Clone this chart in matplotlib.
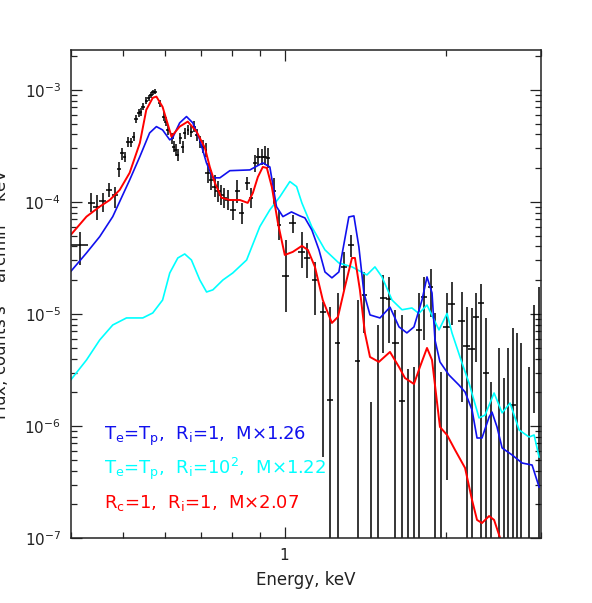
import numpy as np
import matplotlib
matplotlib.use('Agg')
import matplotlib.pyplot as plt
from matplotlib.ticker import LogLocator, NullFormatter, FixedLocator, FixedFormatter

nan = np.nan

# measured spectrum: bin centre, half width (keV), flux and error bar ends
e_mid = [0.416, 0.437, 0.447, 0.459, 0.471, 0.483,
         0.492, 0.499, 0.504, 0.511, 0.519, 0.524, 0.529, 0.536, 0.540, 0.545,
         0.553, 0.559, 0.564, 0.569, 0.575, 0.586, 0.596, 0.601, 0.606, 0.618,
         0.622, 0.628, 0.633, 0.640, 0.646, 0.652, 0.661, 0.671, 0.679, 0.686,
         0.696, 0.704, 0.714,
         0.721, 0.731, 0.742, 0.752, 0.763, 0.772, 0.785, 0.802, 0.816, 0.832,
         0.853, 0.866, 0.881, 0.893, 0.906, 0.919, 0.932, 0.955, 0.976,
         1.006, 1.035, 1.076, 1.102, 1.139, 1.177, 1.217, 1.255, 1.291, 1.329,
         1.367, 1.406,
         1.450, 1.490, 1.526, 1.566, 1.608, 1.652, 1.699, 1.741, 1.781, 1.820,
         1.870, 1.908, 1.957,
         2.003, 2.047, 2.136, 2.183, 2.230, 2.271, 2.321, 2.371, 2.419, 2.510,
         2.561, 2.609, 2.659, 2.704, 2.752, 2.855, 2.917, 2.979]
e_half = [0.015] + [0.0065] * 5 + [0.004] * 33 + [0.009] * 19 + [0.015] * 12 + [0.022] * 13 + [0.032] * 18

f_mid = [4.13e-5, 9.74e-5, 9.08e-5, 1.01e-4, 1.28e-4, 1.15e-4,
         1.97e-4, 2.74e-4, 2.54e-4, 3.45e-4, 3.45e-4, 3.83e-4, 5.47e-4, 6.19e-4, 6.32e-4, 7.09e-4,
         8.03e-4, 8.43e-4, 9.02e-4, 9.54e-4, 9.66e-4, 7.61e-4, 5.78e-4, 5.21e-4, 4.39e-4, 3.70e-4,
         3.12e-4, 2.91e-4, 2.63e-4, 3.70e-4, 3.12e-4, 4.11e-4, 4.39e-4, 4.24e-4, 4.70e-4, 3.96e-4,
         3.45e-4, 3.12e-4, 2.91e-4,
         1.80e-4, 1.57e-4, 1.37e-4, 1.24e-4, 1.15e-4, 1.08e-4, 1.04e-4, 8.49e-5, 1.24e-4, 7.93e-5,
         1.47e-4, 1.08e-4, 2.21e-4, 2.54e-4, 2.54e-4, 2.54e-4, 2.46e-4, 1.24e-4, 6.23e-5,
         2.20e-5, 6.45e-5, 3.60e-5, 3.14e-5, 2.01e-5, 1.05e-5, 1.69e-6, 5.47e-6, 2.64e-5, 4.13e-5,
         3.84e-6, 1.48e-5,
         nan, nan, 1.38e-5, 1.35e-5, 5.54e-6, 1.68e-6, nan, nan, 7.20e-6, 1.43e-5,
         1.75e-5, nan, nan,
         7.70e-6, 1.22e-5, 8.66e-6, 5.18e-6, 4.84e-6, 9.46e-6, 1.25e-5, 2.95e-6, nan, nan,
         nan, nan, 1.54e-6, nan, nan, nan, nan, nan]
f_hi = [5.43e-5, 1.20e-4, 1.15e-4, 1.20e-4, 1.48e-4, 1.36e-4,
        2.28e-4, 3.03e-4, 2.80e-4, 3.81e-4, 3.73e-4, 4.22e-4, 5.98e-4, 6.77e-4, 6.91e-4, 7.65e-4,
        8.66e-4, 9.02e-4, 9.60e-4, 1.00e-3, 1.02e-3, 8.14e-4, 6.36e-4, 5.74e-4, 4.87e-4, 4.13e-4,
        3.50e-4, 3.30e-4, 2.97e-4, 4.13e-4, 3.50e-4, 4.58e-4, 4.87e-4, 4.77e-4, 5.28e-4, 4.48e-4,
        3.88e-4, 3.58e-4, 3.36e-4,
        2.23e-4, 1.93e-4, 1.74e-4, 1.54e-4, 1.42e-4, 1.33e-4, 1.28e-4, 1.04e-4, 1.57e-4, 9.80e-5,
        1.67e-4, 1.33e-4, 2.63e-4, 3.03e-4, 2.97e-4, 3.16e-4, 3.03e-4, 1.64e-4, 8.49e-5,
        4.58e-5, 7.65e-5, 5.43e-5, 4.30e-5, 2.93e-5, 1.29e-5, 1.16e-5, 1.54e-5, 3.60e-5, 5.07e-5,
        1.33e-5, 2.39e-5,
        1.65e-6, 7.97e-6, 2.23e-5, 2.15e-5, 1.09e-5, 9.80e-6, 3.23e-6, 3.38e-6, 1.53e-5, 2.15e-5,
        2.52e-5, 1.01e-5, 3.05e-6,
        1.54e-5, 1.93e-5, 1.57e-5, 1.16e-5, 1.13e-5, 1.54e-5, 1.84e-5, 9.21e-6, 2.49e-6, 4.94e-6,
        2.67e-6, 4.94e-6, 7.45e-6, 6.73e-6, 5.47e-6, 3.38e-6, 1.20e-5, 1.75e-5]
f_lo = [2.74e-5, 8.14e-5, 6.91e-5, 8.14e-5, 1.108e-4, 8.84e-5,
        1.67e-4, 2.37e-4, 2.28e-4, 3.10e-4, 3.10e-4, 3.50e-4, 5.07e-4, 5.74e-4, 5.86e-4, 6.63e-4,
        7.50e-4, 7.97e-4, 8.49e-4, 9.02e-4, 9.21e-4, 7.05e-4, 5.28e-4, 4.77e-4, 3.96e-4, 3.30e-4,
        2.80e-4, 2.57e-4, 2.32e-4, 3.30e-4, 2.74e-4, 3.65e-4, 3.96e-4, 3.81e-4, 4.22e-4, 3.50e-4,
        3.03e-4, 2.74e-4, 2.52e-4,
        1.48e-4, 1.28e-4, 1.108e-4, 1.0e-4, 9.40e-5, 8.84e-5, 8.49e-5, 6.91e-5, 9.80e-5, 6.36e-5,
        1.28e-4, 8.84e-5, 1.85e-4, 2.14e-4, 2.14e-4, 2.14e-4, 2.01e-4, 9.40e-5, 4.58e-5,
        1.05e-5, 5.28e-5, 2.57e-5, 2.10e-5, 9.80e-6, 5.28e-7, 1e-9, 1e-9, 1.64e-5, 3.25e-5,
        1e-9, 6.77e-6,
        1e-9, 1e-9, 4.49e-6, 5.51e-6, 1e-9, 1e-9, 1e-9, 1e-9, 1e-9, 5.86e-6,
        9.46e-6, 1e-9, 1e-9,
        3.30e-7, 7.97e-6, 1.65e-6, 1e-9, 1e-9, 3.75e-6, 1e-9, 1e-9, 1e-9, 1e-9,
        1e-9, 1e-9, 1e-9, 1e-9, 1e-9, 1e-9, 1.31e-6, 1e-9]

# model: Te=Tp, Ri=1
e_blue = [0.400, 0.428, 0.453, 0.479, 0.515, 0.538, 0.561, 0.5775, 0.593, 0.6115,
          0.619, 0.638, 0.657, 0.675, 0.6955, 0.7156, 0.7355, 0.758, 0.791, 0.862,
          0.911, 0.939, 0.966, 0.993, 1.030, 1.068, 1.091, 1.124, 1.159, 1.189,
          1.225, 1.262, 1.317, 1.346, 1.375, 1.405, 1.442, 1.505, 1.571, 1.633,
          1.689, 1.741, 1.802, 1.841, 1.881, 1.905, 1.946, 2.023, 2.111, 2.167,
          2.233, 2.281, 2.330, 2.402, 2.432, 2.485, 2.540, 2.651, 2.767, 2.888, 2.976]
f_blue = [2.39e-5, 3.50e-5, 4.90e-5, 7.39e-5, 1.57e-4, 2.54e-4, 4.13e-4, 4.70e-4, 4.39e-4, 3.58e-4,
          3.73e-4, 5.07e-4, 5.78e-4, 5.07e-4, 3.58e-4, 2.23e-4, 1.64e-4, 1.64e-4, 1.90e-4, 1.93e-4,
          2.23e-4, 2.05e-4, 9.08e-5, 7.39e-5, 8.14e-5, 7.50e-5, 7.20e-5, 5.62e-5, 3.73e-5, 2.37e-5,
          2.10e-5, 2.37e-5, 7.34e-5, 7.50e-5, 3.96e-5, 1.54e-5, 9.80e-6, 9.21e-6, 1.15e-5, 7.66e-6,
          6.77e-6, 7.66e-6, 1.33e-5, 2.14e-5, 1.54e-5, 5.86e-6, 3.73e-6, 2.85e-6, 2.32e-6, 2.01e-6,
          1.39e-6, 7.81e-7, 7.81e-7, 1.20e-6, 1.33e-6, 9.80e-7, 6.36e-7, 5.51e-7, 4.67e-7, 4.48e-7, 2.85e-7]

# model: Te=Tp, Ri=10^2
e_cyan = [0.400, 0.428, 0.453, 0.479, 0.508, 0.5447, 0.5685, 0.593, 0.6115, 0.633,
          0.652, 0.671, 0.6955, 0.716, 0.7355, 0.768, 0.801, 0.850, 0.8995, 0.939,
          0.980, 1.023, 1.053, 1.077, 1.124, 1.189, 1.262, 1.335, 1.423, 1.473,
          1.518, 1.585, 1.654, 1.726, 1.778, 1.841, 1.938, 2.006, 2.049, 2.139,
          2.204, 2.301, 2.361, 2.454, 2.540, 2.628, 2.732, 2.851, 2.913, 2.976]
f_cyan = [2.57e-6, 3.88e-6, 5.86e-6, 7.97e-6, 9.21e-6, 9.21e-6, 1.02e-5, 1.33e-5, 2.32e-5, 3.16e-5,
          3.43e-5, 3.03e-5, 2.01e-5, 1.57e-5, 1.64e-5, 2.01e-5, 2.32e-5, 3.03e-5, 6.02e-5, 8.49e-5,
          1.11e-4, 1.52e-4, 1.37e-4, 9.80e-5, 5.98e-5, 3.73e-5, 2.85e-5, 2.63e-5, 2.23e-5, 2.63e-5,
          2.14e-5, 1.33e-5, 1.09e-5, 1.13e-5, 1.01e-5, 1.20e-5, 7.20e-6, 1.01e-5, 6.77e-6, 3.65e-6,
          2.42e-6, 1.18e-6, 1.25e-6, 1.97e-6, 1.31e-6, 1.60e-6, 9.21e-7, 7.97e-7, 8.31e-7, 5.28e-7]

# model: Rc=1, Ri=1
e_red = [0.400, 0.428, 0.453, 0.473, 0.4935, 0.515, 0.538, 0.553, 0.5685, 0.5775,
         0.593, 0.616, 0.638, 0.6605, 0.686, 0.711, 0.726, 0.742, 0.763, 0.791,
         0.826, 0.854, 0.873, 0.892, 0.911, 0.927, 0.947, 0.972, 1.001, 1.036,
         1.077, 1.105, 1.139, 1.178, 1.225, 1.257, 1.295, 1.335, 1.352, 1.381,
         1.411, 1.442, 1.498, 1.571, 1.633, 1.675, 1.741, 1.786, 1.841, 1.881,
         1.946, 2.006, 2.076, 2.167, 2.233, 2.281, 2.330, 2.402, 2.454, 2.518, 2.572]
f_red = [5.07e-5, 7.39e-5, 9.08e-5, 1.04e-4, 1.28e-4, 1.82e-4, 3.36e-4, 6.63e-4, 8.49e-4, 8.71e-4,
         7.05e-4, 3.83e-4, 4.70e-4, 5.21e-4, 4.24e-4, 3.03e-4, 2.05e-4, 1.48e-4, 1.09e-4, 1.04e-4,
         1.04e-4, 9.80e-5, 1.20e-4, 1.67e-4, 2.05e-4, 2.01e-4, 1.36e-4, 6.49e-5, 3.36e-5, 3.58e-5,
         4.05e-5, 3.73e-5, 2.63e-5, 1.33e-5, 8.31e-6, 9.40e-6, 1.74e-5, 3.16e-5, 3.16e-5, 1.64e-5,
         6.77e-6, 4.13e-6, 3.73e-6, 4.58e-6, 3.36e-6, 2.68e-6, 2.37e-6, 3.36e-6, 4.97e-6, 3.88e-6,
         9.80e-7, 8.31e-7, 6.11e-7, 4.22e-7, 2.18e-7, 1.45e-7, 1.36e-7, 1.57e-7, 1.45e-7, 1.0e-7, 6.4e-8]

labels = [r'T$_\mathregular{e}$=T$_\mathregular{p}$,  R$_\mathregular{i}$=1,  M$\times$1.26',
          r'T$_\mathregular{e}$=T$_\mathregular{p}$,  R$_\mathregular{i}$=10$^\mathregular{2}$,  M$\times$1.22',
          r'R$_\mathregular{c}$=1,  R$_\mathregular{i}$=1,  M$\times$2.07']
colors = ['#1010ee', '#00ffff', '#ff0000']

fig = plt.figure(figsize=(5.92, 6.03), dpi=100)
ax = fig.add_axes([0.1194, 0.1078, 0.7944, 0.8093])

e = np.array(e_mid)
eh = np.array(e_half)
ax.vlines(e, f_lo, f_hi, color='k', lw=1.1)
ax.hlines(f_mid, e - eh, e + eh, color='k', lw=1.1)

ax.plot(e_cyan, f_cyan, color=colors[1], lw=1.2)
ax.plot(e_blue, f_blue, color=colors[0], lw=1.2)
ax.plot(e_red, f_red, color=colors[2], lw=1.4)

ax.set_xscale('log')
ax.set_yscale('log')
ax.set_xlim(0.4, 3.0)
ax.set_ylim(1e-7, 2.27e-3)

ax.xaxis.set_major_locator(FixedLocator([1]))
ax.xaxis.set_major_formatter(FixedFormatter(['1']))
ax.xaxis.set_minor_locator(LogLocator(subs=np.arange(2, 10), numticks=20))
ax.xaxis.set_minor_formatter(NullFormatter())
ax.yaxis.set_minor_locator(LogLocator(subs=np.arange(2, 10), numticks=20))
ax.yaxis.set_minor_formatter(NullFormatter())

ax.tick_params(which='both', direction='in', top=True, right=True, width=0.9, colors='#222222',
               labelcolor='#222222', labelsize=11)
ax.tick_params(which='major', length=8, pad=7)
ax.tick_params(which='minor', length=4.3)
for s in ax.spines.values():
    s.set_linewidth(1.1)
    s.set_color('#222222')

ax.set_xlabel('Energy, keV', fontsize=12, color='#222222', labelpad=6)
fig.text(0.018, 0.526, r'Flux, counts s$^{-1}$ arcmin$^{-2}$ keV$^{-1}$', rotation=90,
         ha='right', va='center', fontsize=12, color='#222222')

for i, (txt, c) in enumerate(zip(labels, colors)):
    ax.text(0.071, 0.2008 - i * 0.0697, txt, color=c, fontsize=13, transform=ax.transAxes,
            va='baseline', ha='left')

fig.savefig('out.png', dpi=100)
